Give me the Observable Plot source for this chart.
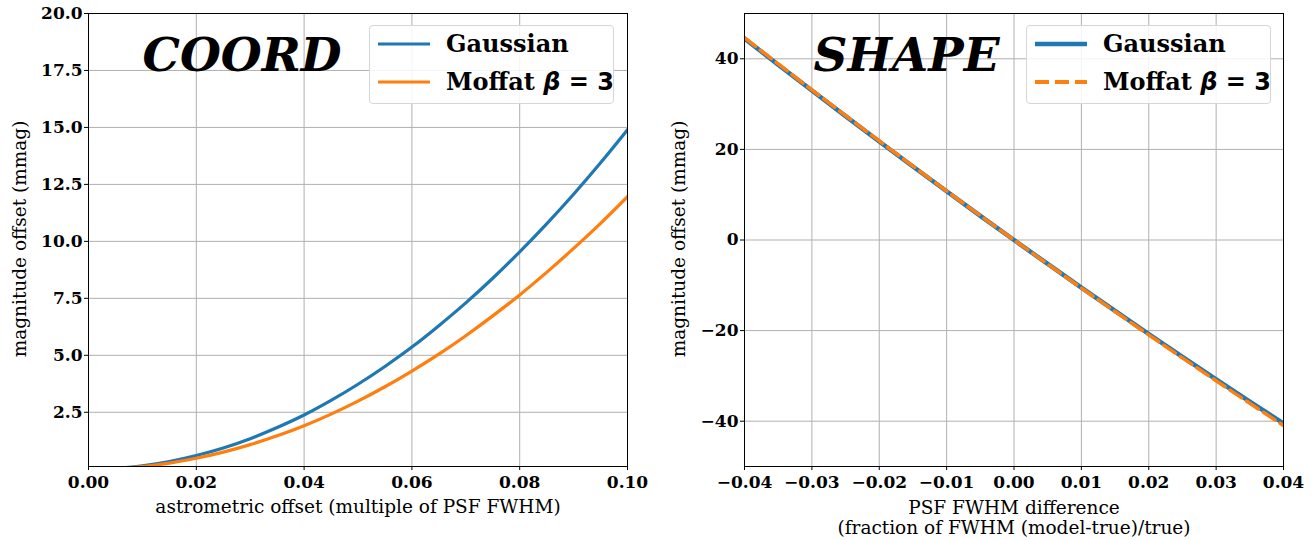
<!DOCTYPE html>
<html>
<head>
<meta charset="utf-8">
<script src="https://cdn.jsdelivr.net/npm/d3@7"></script>
<script src="https://cdn.jsdelivr.net/npm/@observablehq/plot@0.6"></script>
<style>
  html, body { margin: 0; padding: 0; background: white; }
  #wrap { position: relative; width: 1315px; height: 540px; overflow: hidden; background: white; }
  #wrap svg { position: absolute; top: 0; overflow: visible; }
  .legend { position: absolute; box-sizing: border-box; border: 1px solid #d6d6d6; border-radius: 4px;
            background: rgba(255,255,255,0.85); font-family: "DejaVu Serif"; font-weight: bold; font-size: 24px; color: black; }
  .legend .lbl { position: absolute; white-space: nowrap; line-height: 1; }
  .math { font-family: "DejaVu Sans"; font-weight: bold; }
  .math i { font-style: italic; }
  .ylab { position: absolute; white-space: nowrap; font-family: "DejaVu Serif"; font-size: 18.5px; color: black;
          line-height: 1; transform: translate(-50%, -50%) rotate(-90deg); }
</style>
</head>
<body>
<div id="wrap"></div>
<script>
// ---------- Data: COORD panel ----------
const coordX = [0, 0.005, 0.01, 0.015, 0.02, 0.025, 0.03, 0.035, 0.04, 0.045, 0.05,
                0.055, 0.06, 0.065, 0.07, 0.075, 0.08, 0.085, 0.09, 0.095, 0.1];
const coordGaussian = [0, 0.037, 0.15, 0.34, 0.60, 0.93, 1.34, 1.83, 2.38, 3.02, 3.73,
                       4.51, 5.36, 6.30, 7.30, 8.38, 9.54, 10.77, 12.07, 13.45, 14.9];
const coordMoffat = [0, 0.03, 0.12, 0.27, 0.48, 0.75, 1.08, 1.47, 1.91, 2.42, 2.99,
                     3.62, 4.31, 5.05, 5.86, 6.73, 7.65, 8.64, 9.69, 10.79, 11.96];
const coordXTicks = [0, 0.02, 0.04, 0.06, 0.08, 0.1];
const coordYTicks = [2.5, 5, 7.5, 10, 12.5, 15, 17.5, 20];

// ---------- Data: SHAPE panel ----------
const shapeX = [-0.04, -0.035, -0.03, -0.025, -0.02, -0.015, -0.01, -0.005, 0,
                0.005, 0.01, 0.015, 0.02, 0.025, 0.03, 0.035, 0.04];
const shapeGaussian = [44.5, 38.7, 33.0, 27.34, 21.75, 16.22, 10.75, 5.34, 0,
                       -5.28, -10.5, -15.66, -20.75, -25.78, -30.75, -35.66, -40.5];
const shapeMoffat = [44.64, 38.86, 33.14, 27.47, 21.86, 16.31, 10.82, 5.38, 0,
                     -5.32, -10.59, -15.79, -20.94, -26.03, -31.07, -36.04, -40.96];
const shapeXTicks = [-0.04, -0.03, -0.02, -0.01, 0, 0.01, 0.02, 0.03, 0.04];
const shapeYTicks = [-40, -20, 0, 20, 40];

const BLUE = "#1f77b4", ORANGE = "#ff7f0e", GRID = "#b0b0b0";

const coordData = coordX.map((x, i) => ({x, g: coordGaussian[i], m: coordMoffat[i]}));
const shapeData = shapeX.map((x, i) => ({x, g: shapeGaussian[i], m: shapeMoffat[i]}));

const baseStyle = {fontFamily: "DejaVu Serif", fontSize: "17px", fontWeight: "bold", color: "black", background: "transparent", overflow: "visible"};

const titleOpts = {frameAnchor: "top-left", textAnchor: "start", lineAnchor: "top",
                   fontSize: 47, fontWeight: "bold", fontStyle: "italic", fill: "black"};

const left = Plot.plot({
  width: 657, height: 540,
  marginTop: 13, marginBottom: 74, marginLeft: 88, marginRight: 30,
  x: {domain: [0, 0.1]},
  y: {domain: [0.12, 20]},
  style: baseStyle,
  marks: [
    Plot.gridX(coordXTicks, {stroke: GRID, strokeOpacity: 1, strokeWidth: 1}),
    Plot.gridY(coordYTicks, {stroke: GRID, strokeOpacity: 1, strokeWidth: 1}),
    Plot.line(coordData, {x: "x", y: "g", stroke: BLUE, strokeWidth: 3.2, curve: "monotone-x", clip: true}),
    Plot.line(coordData, {x: "x", y: "m", stroke: ORANGE, strokeWidth: 3.2, curve: "monotone-x", clip: true}),
    Plot.frame({stroke: "black", strokeWidth: 1}),
    Plot.axisX(coordXTicks, {tickSize: 4, tickPadding: 5, tickFormat: d3.format(".2f"), label: null}),
    Plot.axisY(coordYTicks, {tickSize: 4, tickPadding: 2, tickFormat: d3.format(".1f"), label: null}),
    Plot.text(["COORD"], {...titleOpts, dx: 54, dy: 24}),
    Plot.text(["astrometric offset (multiple of PSF FWHM)"], {frameAnchor: "bottom", dy: 46, fontSize: 18.5, fontWeight: "normal", fill: "black"})
  ]
});

const right = Plot.plot({
  width: 658, height: 540,
  marginTop: 13, marginBottom: 74, marginLeft: 87, marginRight: 32,
  x: {domain: [-0.04, 0.04]},
  y: {domain: [-50, 50]},
  style: baseStyle,
  marks: [
    Plot.gridX(shapeXTicks, {stroke: GRID, strokeOpacity: 1, strokeWidth: 1}),
    Plot.gridY(shapeYTicks, {stroke: GRID, strokeOpacity: 1, strokeWidth: 1}),
    Plot.line(shapeData, {x: "x", y: "g", stroke: BLUE, strokeWidth: 4.5, curve: "monotone-x", clip: true}),
    Plot.line(shapeData, {x: "x", y: "m", stroke: ORANGE, strokeWidth: 3.5, strokeDasharray: "14,6", curve: "monotone-x", clip: true}),
    Plot.frame({stroke: "black", strokeWidth: 1}),
    Plot.axisX(shapeXTicks, {tickSize: 4, tickPadding: 5, tickFormat: d3.format(".2f"), label: null}),
    Plot.axisY(shapeYTicks, {tickSize: 4, tickPadding: 2, tickFormat: d3.format("d"), label: null}),
    Plot.text(["SHAPE"], {...titleOpts, dx: 69, dy: 24}),
    Plot.text(["PSF FWHM difference\n(fraction of FWHM (model-true)/true)"], {frameAnchor: "bottom", dy: 67, lineHeight: 1.08, fontSize: 18.5, fontWeight: "normal", fill: "black"})
  ]
});

const wrap = document.getElementById("wrap");
left.style.left = "0px";
right.style.left = "657px";
wrap.appendChild(left);
wrap.appendChild(right);

// Rotated y-axis labels
function yLabel(text, cx, cy) {
  const d = document.createElement("div");
  d.className = "ylab";
  d.textContent = text;
  d.style.left = cx + "px";
  d.style.top = cy + "px";
  wrap.appendChild(d);
}
yLabel("magnitude offset (mmag)", 20, 239);
yLabel("magnitude offset (mmag)", 679, 239);

// Legends (HTML overlays)
const legendItems = [
  {html: "Gaussian", color: BLUE, dash: null},
  {html: 'Moffat <span class="math"><i>β</i> = 3</span>', color: ORANGE, dash: "dash"}
];
function makeLegend(x, y, dashed, blueW, orangeW) {
  const box = document.createElement("div");
  box.className = "legend";
  Object.assign(box.style, {left: x + "px", top: y + "px", width: "245px", height: "79px"});
  legendItems.forEach((it, i) => {
    const cy = 18 + i * 38;
    const svgNS = "http://www.w3.org/2000/svg";
    const s = document.createElementNS(svgNS, "svg");
    s.setAttribute("width", "60"); s.setAttribute("height", "10");
    Object.assign(s.style, {position: "absolute", left: "6px", top: (cy - 5) + "px", overflow: "visible"});
    const ln = document.createElementNS(svgNS, "line");
    ln.setAttribute("x1", "2"); ln.setAttribute("x2", "54");
    ln.setAttribute("y1", "5"); ln.setAttribute("y2", "5");
    ln.setAttribute("stroke", it.color);
    ln.setAttribute("stroke-width", i === 0 ? blueW : orangeW);
    if (dashed && it.dash) ln.setAttribute("stroke-dasharray", "14,6");
    s.appendChild(ln);
    box.appendChild(s);
    const t = document.createElement("div");
    t.className = "lbl";
    t.innerHTML = it.html;
    Object.assign(t.style, {left: "76px", top: (cy - 12) + "px"});
    box.appendChild(t);
  });
  wrap.appendChild(box);
}
makeLegend(369, 25, false, 3.2, 3.2);
makeLegend(1026, 25, true, 4.5, 4);
</script>
</body>
</html>
